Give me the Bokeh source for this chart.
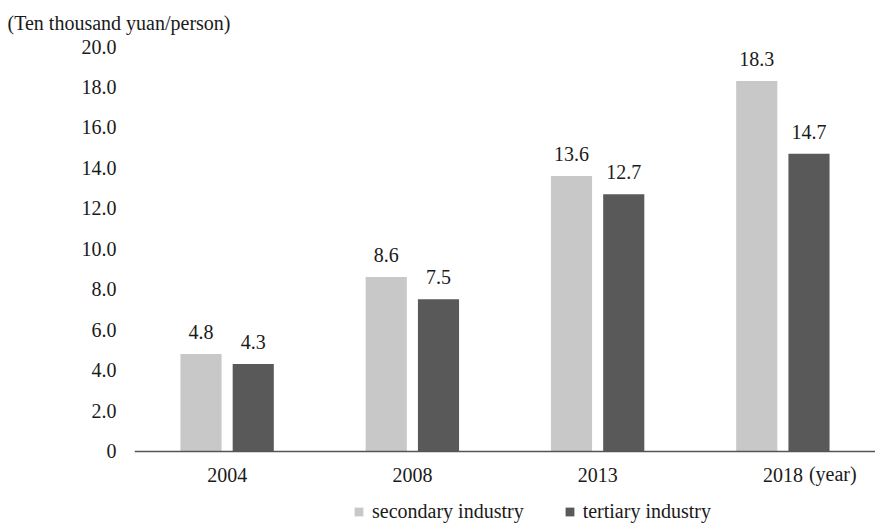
from bokeh.plotting import figure
from bokeh.models import (ColumnDataSource, FactorRange, Range1d, FixedTicker,
                          Legend, LegendItem, Label)
from bokeh.transform import dodge
from bokeh.core.properties import value
from bokeh.embed import file_html
from bokeh.resources import INLINE

years = ["2004", "2008", "2013", "2018"]
secondary = [4.8, 8.6, 13.6, 18.3]
tertiary = [4.3, 7.5, 12.7, 14.7]
ytick_vals = [0, 2, 4, 6, 8, 10, 12, 14, 16, 18, 20]
ytick_labels = ["0", "2.0", "4.0", "6.0", "8.0", "10.0", "12.0", "14.0", "16.0", "18.0", "20.0"]
unit_label = "(Ten thousand yuan/person)"
x_unit = "(year)"
series_names = ["secondary industry", "tertiary industry"]

FONT = "Liberation Serif"
FS = "20px"
LIGHT = "#c8c8c8"
DARK = "#595959"
TXT = "#1a1a1a"

src = ColumnDataSource(dict(
    year=years, sec=secondary, ter=tertiary,
    sec_lbl=[f"{v:.1f}" for v in secondary],
    ter_lbl=[f"{v:.1f}" for v in tertiary],
))

# frame extends below zero so that the axis labels, legend and unit text are inside it
p = figure(x_range=FactorRange(*years), y_range=Range1d(-3.83, 20),
           width=875, height=528, output_backend="svg", toolbar_location=None,
           min_border_left=134, min_border_right=0, min_border_top=0,
           min_border_bottom=0)

r1 = p.vbar(x=dodge("year", -0.141, range=p.x_range), top="sec", bottom=0,
            width=0.222, source=src, fill_color=LIGHT, line_color=None)
r2 = p.vbar(x=dodge("year", 0.141, range=p.x_range), top="ter", bottom=0,
            width=0.222, source=src, fill_color=DARK, line_color=None)

for col, lbl, off in (("sec", "sec_lbl", -0.141), ("ter", "ter_lbl", 0.141)):
    p.text(x=dodge("year", off, range=p.x_range), y=col, text=lbl, source=src,
           text_align="center", text_baseline="middle", y_offset=-22,
           text_font=value(FONT), text_font_size=FS, text_color=TXT)

p.xgrid.visible = False
p.ygrid.visible = False
p.outline_line_color = None

xa = p.xaxis[0]
xa.fixed_location = 0
xa.major_tick_line_color = None
xa.minor_tick_line_color = None
xa.axis_line_color = "#555555"
xa.axis_line_width = 1.5
xa.major_label_standoff = 11
xa.major_label_text_font = FONT
xa.major_label_text_font_size = FS
xa.major_label_text_color = TXT

ya = p.yaxis[0]
ya.ticker = FixedTicker(ticks=ytick_vals)
ya.major_label_overrides = {v: s for v, s in zip(ytick_vals, ytick_labels)}
ya.axis_line_color = None
ya.major_tick_line_color = None
ya.minor_tick_line_color = None
ya.major_label_standoff = 12
ya.major_label_text_font = FONT
ya.major_label_text_font_size = FS
ya.major_label_text_color = TXT

p.title.text = unit_label
p.title.align = "left"
p.title.vertical_align = "top"
p.title.offset = -127
p.title.standoff = 22
p.title.text_font = FONT
p.title.text_font_size = FS
p.title.text_font_style = "normal"
p.title.text_color = TXT

p.add_layout(Label(x=3.5, y=-1.12, x_offset=26, text=x_unit, text_align="left",
                   text_baseline="middle", text_font=FONT, text_font_size=FS,
                   text_color=TXT))

legend = Legend(items=[LegendItem(label=series_names[0], renderers=[r1]),
                       LegendItem(label=series_names[1], renderers=[r2])],
                orientation="horizontal", location=(219, 5),
                glyph_width=11, glyph_height=11, label_standoff=8, spacing=40,
                label_text_font=FONT, label_text_font_size=FS,
                label_text_color=TXT, border_line_color=None,
                background_fill_alpha=0, padding=0, margin=0)
p.add_layout(legend, "center")

open("out.html", "w").write(file_html(p, INLINE))
